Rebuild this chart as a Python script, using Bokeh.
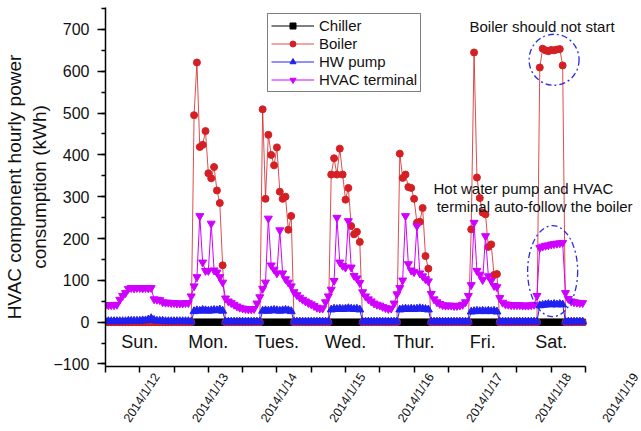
import math
from bokeh.plotting import figure
from bokeh.models import Range1d, FixedTicker, Label, LinearAxis
from bokeh.core.properties import value
from bokeh.embed import file_html
from bokeh.resources import INLINE

FONT = "Liberation Sans"

# ---- tick / category labels ----
date_labels = ["2014/1/12", "2014/1/13", "2014/1/14", "2014/1/15",
               "2014/1/16", "2014/1/17", "2014/1/18", "2014/1/19"]
day_labels = ["Sun.", "Mon.", "Tues.", "Wed.", "Thur.", "Fri.", "Sat."]
y_ticks = [-100, 0, 100, 200, 300, 400, 500, 600, 700]
y_minor = [-100, -50, 0, 50, 100, 150, 200, 250, 300, 350, 400, 450,
           500, 550, 600, 650, 700, 750]

# ---- hourly values (kWh), one list of 24 hours per day ----
chiller_sun = [0, 0, 0, 0, 0, 0, 0, 0, 0, 0, 0, 0, 0, 0, 0, 0, 0, 0, 0, 0, 0, 0, 0, 0]
chiller_mon = [0, 0, 0, 0, 0, 0, 0, 0, 0, 0, 0, 0, 0, 0, 0, 0, 0, 0, 0, 0, 0, 0, 0, 0]
chiller_tue = [0, 0, 0, 0, 0, 0, 0, 0, 0, 0, 0, 0, 0, 0, 0, 0, 0, 0, 0, 0, 0, 0, 0, 0]
chiller_wed = [0, 0, 0, 0, 0, 0, 0, 0, 0, 0, 0, 0, 0, 0, 0, 0, 0, 0, 0, 0, 0, 0, 0, 0]
chiller_thu = [0, 0, 0, 0, 0, 0, 0, 0, 0, 0, 0, 0, 0, 0, 0, 0, 0, 0, 0, 0, 0, 0, 0, 0]
chiller_fri = [0, 0, 0, 0, 0, 0, 0, 0, 0, 0, 0, 0, 0, 0, 0, 0, 0, 0, 0, 0, 0, 0, 0, 0]
chiller_sat = [0, 0, 0, 0, 0, 0, 0, 0, 0, 0, 0, 0, 0, 0, 0, 0, 0, 0, 0, 0, 0, 0, 0, 0]

boiler_sun = [0, 0, 0, 0, 0, 0, 0, 0, 0, 0, 0, 0, 0, 0, 0, 0, 0, 0, 0, 0, 0, 0, 0, 0]
boiler_mon = [0, 0, 0, 0, 0, 0, 0, 495, 621, 419, 424, 457, 356, 344, 371, 315, 285, 136, 0, 0, 0, 0, 0, 0]
boiler_tue = [0, 0, 0, 0, 0, 0, 0, 509, 295, 448, 400, 375, 418, 312, 295, 300, 221, 254, 0, 0, 0, 0, 0, 0]
boiler_wed = [0, 0, 0, 0, 0, 0, 0, 353, 392, 353, 415, 353, 293, 321, 230, 210, 216, 192, 0, 0, 0, 0, 0, 0]
boiler_thu = [0, 0, 0, 0, 0, 0, 0, 403, 345, 353, 323, 321, 295, 238, 240, 273, 158, 128, 0, 0, 0, 0, 0, 0]
boiler_fri = [0, 0, 0, 0, 0, 0, 0, 0, 222, 645, 346, 297, 262, 258, 180, 186, 113, 115, 0, 0, 0, 0, 0, 0]
boiler_sat = [0, 0, 0, 0, 0, 0, 0, 0, 609, 654, 650, 648, 651, 650, 652, 653, 614, 0, 0, 0, 0, 0, 0, 0]

hw_sun = [2, 2, 2, 2, 2, 2, 2, 2, 3, 3, 3, 3, 3, 4, 4, 6, 9, 5, 3, 3, 3, 2, 2, 2]
hw_mon = [2, 2, 2, 2, 2, 2, 1, 26, 28, 27, 29, 28, 27, 28, 29, 28, 30, 27, 1, 1, 1, 1, 1, 1]
hw_tue = [1, 1, 1, 1, 1, 1, 1, 27, 28, 27, 28, 29, 28, 27, 28, 29, 28, 26, 1, 1, 1, 1, 1, 1]
hw_wed = [1, 1, 1, 1, 1, 1, 1, 30, 32, 31, 32, 31, 32, 33, 32, 31, 32, 30, 1, 1, 1, 1, 1, 1]
hw_thu = [1, 1, 1, 1, 1, 1, 1, 30, 31, 32, 31, 32, 31, 32, 33, 32, 31, 30, 1, 1, 1, 1, 1, 1]
hw_fri = [1, 1, 1, 1, 1, 1, 1, 1, 25, 26, 27, 26, 27, 26, 27, 26, 27, 25, 1, 1, 1, 1, 1, 1]
hw_sat = [1, 1, 1, 1, 1, 1, 1, 1, 40, 41, 42, 43, 42, 43, 42, 43, 42, 1, 1, 1, 1, 1, 1, 1]

term_sun = [41, 41, 41, 41, 42, 54, 63, 70, 80, 82, 81, 82, 82, 81, 82, 81, 82, 55, 54, 53, 48, 47, 47, 46]
term_mon = [46, 45, 45, 45, 46, 46, 62, 86, 108, 254, 143, 123, 123, 236, 124, 119, 108, 95, 57, 50, 46, 42, 38, 35]
term_tue = [33, 32, 31, 31, 32, 45, 60, 80, 95, 248, 136, 126, 117, 220, 117, 103, 95, 86, 72, 65, 59, 54, 50, 46]
term_wed = [43, 39, 35, 33, 33, 48, 62, 78, 99, 250, 143, 135, 131, 242, 131, 111, 105, 94, 72, 62, 55, 50, 45, 42]
term_thu = [40, 37, 34, 32, 33, 45, 67, 82, 100, 254, 139, 124, 120, 230, 117, 110, 103, 98, 68, 55, 48, 44, 41, 40]
term_fri = [40, 40, 39, 39, 40, 42, 48, 63, 89, 238, 123, 114, 101, 206, 110, 99, 87, 84, 58, 47, 43, 42, 41, 41]
term_sat = [41, 41, 40, 40, 40, 41, 42, 63, 178, 181, 183, 184, 186, 187, 188, 189, 190, 70, 56, 50, 48, 47, 46, 46]

# annotation ellipses (hour, kWh)
ell_x = [157.0, 156.5]
ell_y = [627.5, 122.0]

chiller = chiller_sun + chiller_mon + chiller_tue + chiller_wed + chiller_thu + chiller_fri + chiller_sat
boiler = boiler_sun + boiler_mon + boiler_tue + boiler_wed + boiler_thu + boiler_fri + boiler_sat
hw_pump = hw_sun + hw_mon + hw_tue + hw_wed + hw_thu + hw_fri + hw_sat
terminal = term_sun + term_mon + term_tue + term_wed + term_thu + term_fri + term_sat
hours = list(range(len(boiler)))
n_hours = 168

W, H = 641, 431
LEFT, TOP, BOTTOM = 105, 7, 63
frame_w = W - LEFT
x_end = n_hours * frame_w / 480.0   # data axis occupies 480 px; frame runs to the page edge

p = figure(width=W, height=H, x_range=Range1d(0, x_end), y_range=Range1d(-106, 752.5),
           output_backend="svg", toolbar_location=None,
           min_border_left=LEFT, min_border_right=0, min_border_top=TOP, min_border_bottom=BOTTOM)
p.xgrid.visible = False
p.ygrid.visible = False
p.outline_line_color = None
p.background_fill_color = "white"
p.border_fill_color = "white"

# y axis
yax = p.yaxis[0]
yax.ticker = FixedTicker(ticks=y_ticks, minor_ticks=y_minor)
yax.major_tick_out = 8
yax.major_tick_in = 0
yax.minor_tick_out = 4
yax.minor_tick_in = 0
yax.axis_line_width = 1.5
yax.major_tick_line_width = 1.5
yax.minor_tick_line_width = 1.5
yax.major_label_text_font = FONT
yax.major_label_text_font_size = "16px"
yax.major_label_text_color = "#111111"
yax.major_label_standoff = 8
yax.axis_label = "HVAC component hourly power\nconsumption (kWh)"
yax.axis_label_text_font = FONT
yax.axis_label_text_font_size = "19px"
yax.axis_label_text_font_style = "normal"
yax.axis_label_text_color = "#111111"
yax.axis_label_standoff = 0

# x axis: tick marks every 12 hours, bounded to the week
x_tick_pos = list(range(0, n_hours + 1, 12))
xax = p.xaxis[0]
xax.bounds = (0, n_hours)
xax.ticker = FixedTicker(ticks=x_tick_pos)
xax.major_label_overrides = {t: "" for t in x_tick_pos}
xax.major_label_text_font_size = "1px"
xax.major_label_standoff = 0
xax.major_tick_out = 6
xax.major_tick_in = 0
xax.axis_line_width = 1.5
xax.major_tick_line_width = 1.5

# second x axis carrying the rotated date labels
date_pos = [24 * i + 18 for i in range(len(date_labels))]
xdates = LinearAxis(ticker=FixedTicker(ticks=date_pos),
                    major_label_overrides={pos: lab for pos, lab in zip(date_pos, date_labels)},
                    major_label_orientation=math.radians(57),
                    axis_line_color=None, major_tick_line_color=None, minor_tick_line_color=None,
                    major_tick_out=0, major_tick_in=0, major_label_standoff=2,
                    major_label_text_font=FONT, major_label_text_font_size="12.5px",
                    major_label_text_color="#111111")
p.add_layout(xdates, "below")

# series
C_BOIL, C_HW, C_TERM = "#D42024", "#2020F0", "#D000FF"
p.line(hours, chiller, line_color="black", line_width=1, legend_label="Chiller")
p.scatter(hours, chiller, marker="square", size=6, fill_color="black", line_color="black",
          legend_label="Chiller")
p.line(hours, boiler, line_color=C_BOIL, line_width=1, line_alpha=0.8, legend_label="Boiler")
p.scatter(hours, boiler, marker="circle", size=7, fill_color=C_BOIL, line_color=C_BOIL,
          legend_label="Boiler")
p.line(hours, hw_pump, line_color=C_HW, line_width=1, legend_label="HW pump")
p.scatter(hours, hw_pump, marker="triangle", size=8, fill_color=C_HW, line_color=C_HW,
          legend_label="HW pump")
p.line(hours, terminal, line_color=C_TERM, line_width=1, legend_label="HVAC terminal")
p.scatter(hours, terminal, marker="inverted_triangle", size=8, fill_color=C_TERM,
          line_color=C_TERM, legend_label="HVAC terminal")

# day names inside plot
p.text(x=[24 * i + 12 for i in range(len(day_labels))], y=[-48] * len(day_labels),
       text=day_labels, text_align="center", text_baseline="middle",
       text_font=value(FONT), text_font_size="18px", text_color="#111111")

# annotations
p.add_layout(Label(x=127.4, y=708, text="Boiler should not start", text_font=FONT,
                   text_font_size="15px", text_align="left", text_baseline="middle",
                   text_color="#111111"))
p.add_layout(Label(x=114.8, y=320, text="Hot water pump and HVAC", text_font=FONT,
                   text_font_size="15px", text_align="left", text_baseline="middle",
                   text_color="#111111"))
p.add_layout(Label(x=115.9, y=276.6, text="terminal auto-follow the boiler", text_font=FONT,
                   text_font_size="15px", text_align="left", text_baseline="middle",
                   text_color="#111111"))
p.ellipse(x=ell_x, y=ell_y, width=[50, 50], height=[51, 91], width_units="screen",
          height_units="screen", fill_color=None, line_color="#2A2AE6", line_width=1.3,
          line_dash="6 3 2 3")

# legend
leg = p.legend[0]
leg.location = (162, 274)
leg.margin = 0
leg.padding = 3
leg.spacing = 1
leg.label_height = 15
leg.glyph_height = 15
leg.glyph_width = 43
leg.label_standoff = 5
leg.label_text_font = FONT
leg.label_text_font_size = "15px"
leg.label_text_color = "#111111"
leg.border_line_color = "black"
leg.border_line_width = 1
leg.background_fill_alpha = 1.0

open("out.html", "w").write(file_html(p, INLINE))
